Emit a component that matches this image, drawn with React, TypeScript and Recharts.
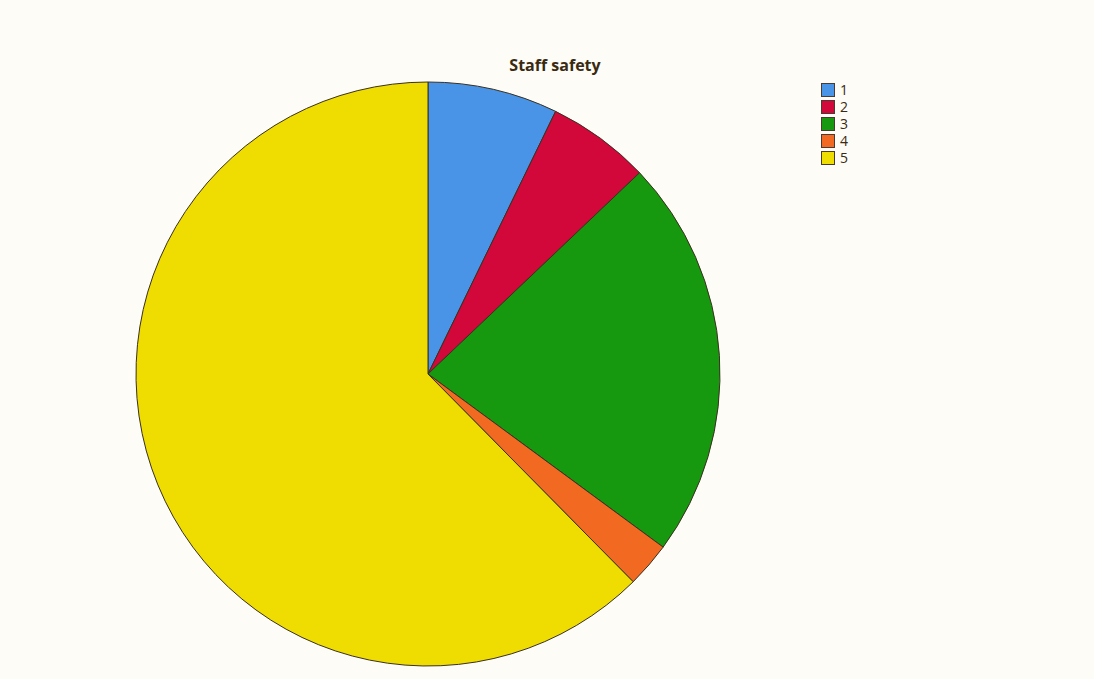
import { PieChart, Pie, Cell, Legend } from "recharts";

const categories = ["1", "2", "3", "4", "5"];
const values = [7.2, 5.7, 22.2, 2.5, 62.4];
const colors = ["#4a94e8", "#d3083a", "#17990f", "#f26a22", "#efdc00"];

const data = categories.map((name, i) => ({ name, value: values[i] }));

const LegendBox = () => (
  <div style={{ fontFamily: "'Open Sans', sans-serif", fontSize: 14, color: "#3a2a12" }}>
    {categories.map((c, i) => (
      <div key={c} style={{ display: "flex", alignItems: "center", height: 17 }}>
        <span
          style={{
            display: "inline-block",
            width: 12,
            height: 12,
            background: colors[i],
            border: "1px solid #4a3a30",
            marginRight: 5,
          }}
        />
        <span>{c}</span>
      </div>
    ))}
  </div>
);

const App = () => {
  return (
    <div
      style={{
        position: "absolute",
        left: 0,
        top: 0,
        width: 1094,
        height: 679,
        background: "#fdfcf6",
      }}
    >
      <div
        style={{
          position: "absolute",
          left: 440,
          width: 230,
          top: 54,
          textAlign: "center",
          fontFamily: "'Open Sans', sans-serif",
          fontWeight: 700,
          fontSize: 16,
          color: "#3a2a12",
        }}
      >
        Staff safety
      </div>
      <PieChart width={1094} height={679}>
        <Pie
          data={data}
          dataKey="value"
          nameKey="name"
          cx={423}
          cy={369}
          outerRadius={292}
          startAngle={90}
          endAngle={-270}
          stroke="#3a3020"
          strokeWidth={1}
          isAnimationActive={false}
        >
          {data.map((d, i) => (
            <Cell key={d.name} fill={colors[i]} />
          ))}
        </Pie>
        <Legend
          content={<LegendBox />}
          layout="vertical"
          wrapperStyle={{ position: "absolute", left: 821, top: 81, width: 60 }}
        />
      </PieChart>
    </div>
  );
};

export default App;
